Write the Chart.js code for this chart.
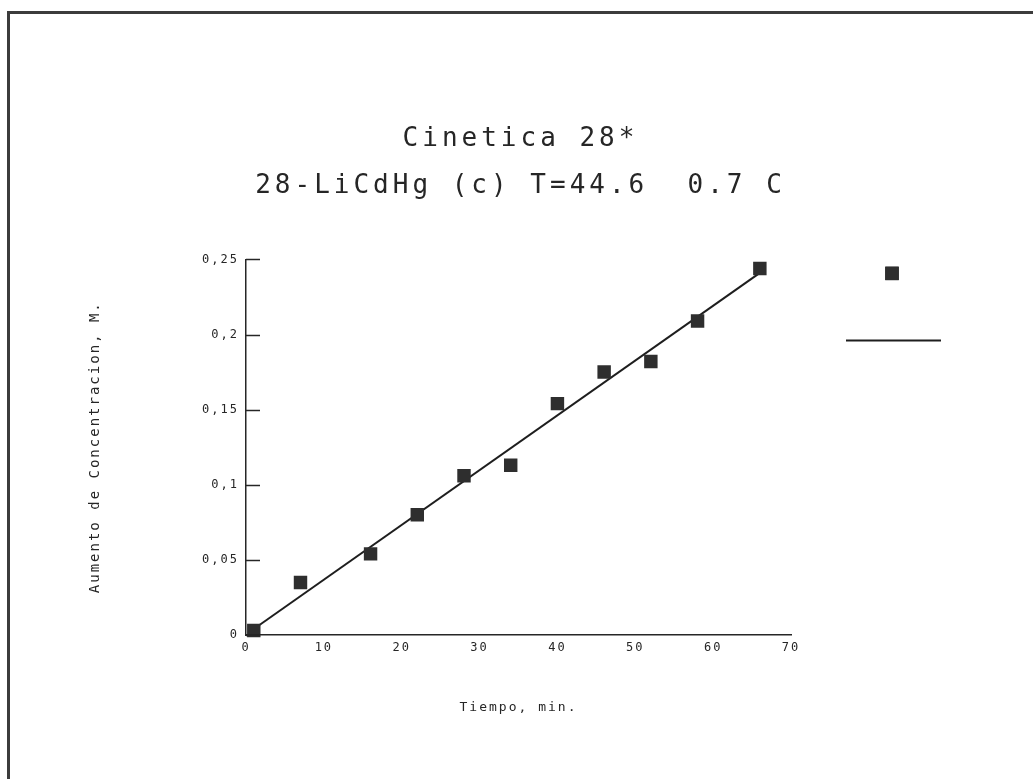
<!DOCTYPE html>
<html>
<head>
<meta charset="utf-8">
<title>Cinetica 28*</title>
<script src="https://cdn.jsdelivr.net/npm/chart.js@4.4.1/dist/chart.umd.min.js"></script>
<style>
    html, body { margin: 0; padding: 0; background: #fff; overflow: hidden; }
    #frame {
        position: absolute; left: 7px; top: 11px; width: 1100px; height: 1000px;
        border-left: 3px solid #3c3c3c; border-top: 3px solid #3c3c3c;
    }
    #wrap { position: absolute; left: 0; top: 0; width: 1033px; height: 779px; }
</style>
</head>
<body>
<div id="frame"></div>
<div id="wrap"><canvas id="kineticsChart"></canvas></div>
<script>
// --- DATA ---
const timeMin = [1, 7, 16, 22, 28, 34, 40, 46, 52, 58, 66];
const concIncrease = [0.003, 0.035, 0.054, 0.080, 0.106, 0.113, 0.154, 0.175, 0.182, 0.209, 0.244];
// fitted straight line, end points
const fitX = [1, 66];
const fitY = [0.004, 0.241];
const xTickLabels = ['0', '10', '20', '30', '40', '50', '60', '70'];
const yTickLabels = ['0', '0,05', '0,1', '0,15', '0,2', '0,25'];

const ink = '#262626';
const mono = "'DejaVu Sans Mono', 'Liberation Mono', monospace";

// spacing for the plotter-like lettering; scale layers are drawn after the datasets (z: 1)
const letterSpacingPlugin = {
    id: 'letterSpacing',
    beforeDraw(chart) { chart.ctx.letterSpacing = '4px'; },
    afterDatasetsDraw(chart) { chart.ctx.letterSpacing = '2px'; },
    afterDraw(chart) { chart.ctx.letterSpacing = '0px'; }
};

// short tick marks pointing into the plot on the y axis
const innerTicksPlugin = {
    id: 'innerTicks',
    afterDraw(chart) {
        const { ctx, chartArea } = chart;
        const yScale = chart.scales.y;
        ctx.save();
        ctx.strokeStyle = ink;
        ctx.lineWidth = 1.5;
        yScale.ticks.forEach(t => {
            const py = Math.round(yScale.getPixelForValue(t.value)) + 0.5;
            ctx.beginPath();
            ctx.moveTo(chartArea.left, py);
            ctx.lineTo(chartArea.left + 14, py);
            ctx.stroke();
        });
        ctx.restore();
    }
};

// legend without text: a marker and a line sample to the right of the plot
const sideLegendPlugin = {
    id: 'sideLegend',
    afterDraw(chart) {
        const { ctx, chartArea } = chart;
        const pts = chart.data.datasets[0];
        const fit = chart.data.datasets[1];
        ctx.save();
        Chart.helpers.drawPoint(ctx, {
            pointStyle: pts.pointStyle,
            radius: pts.pointRadius,
            borderWidth: 0
        }, chartArea.right + 101, chartArea.top + 14);
        ctx.fillStyle = pts.backgroundColor;
        ctx.fill();
        ctx.strokeStyle = fit.borderColor;
        ctx.lineWidth = fit.borderWidth;
        ctx.beginPath();
        ctx.moveTo(chartArea.right + 55, chartArea.top + 81);
        ctx.lineTo(chartArea.right + 150, chartArea.top + 81);
        ctx.stroke();
        ctx.restore();
    }
};

document.addEventListener('DOMContentLoaded', () => {
    const ctx = document.getElementById('kineticsChart').getContext('2d');
    new Chart(ctx, {
        type: 'scatter',
        data: {
            datasets: [{
                label: 'Medidas',
                data: timeMin.map((t, i) => ({ x: t, y: concIncrease[i] })),
                pointStyle: 'rect',
                pointRadius: 9.5,
                pointHoverRadius: 9.5,
                backgroundColor: '#2e2e2e',
                borderWidth: 0,
                clip: 12
            }, {
                label: 'Ajuste',
                data: fitX.map((t, i) => ({ x: t, y: fitY[i] })),
                showLine: true,
                pointRadius: 0,
                borderColor: '#1e1e1e',
                borderWidth: 2,
                clip: 12
            }]
        },
        options: {
            responsive: true,
            maintainAspectRatio: false,
            animation: false,
            layout: { padding: { left: 8, right: 0, top: 0, bottom: 0 } },
            plugins: {
                legend: { display: false },
                tooltip: { enabled: false },
                title: {
                    display: true,
                    text: 'Cinetica 28*',
                    color: ink,
                    font: { family: mono, size: 26, weight: 'normal' },
                    padding: { top: 124, bottom: 0 }
                },
                subtitle: {
                    display: true,
                    text: '28-LiCdHg (c) T=44.6  0.7 C',
                    color: ink,
                    font: { family: mono, size: 26, weight: 'normal' },
                    padding: { top: 15, bottom: 58 }
                }
            },
            scales: {
                x: {
                    type: 'linear',
                    min: 0,
                    max: 70,
                    grid: { display: false, drawTicks: false, z: 1 },
                    border: { display: true, color: ink, width: 1.5, z: 1 },
                    ticks: {
                        z: 1,
                        stepSize: 10,
                        padding: 6,
                        color: ink,
                        font: { family: mono, size: 12 },
                        callback: (v, i) => xTickLabels[i]
                    },
                    title: {
                        display: true,
                        text: 'Tiempo, min.',
                        color: ink,
                        font: { family: mono, size: 13 },
                        padding: { top: 0, bottom: 64 }
                    },
                    afterFit: s => { s.height = 144; }
                },
                y: {
                    type: 'linear',
                    min: 0,
                    max: 0.25,
                    grid: { display: false, drawTicks: false, z: 1 },
                    border: { display: true, color: ink, width: 1.5, z: 1 },
                    ticks: {
                        z: 1,
                        stepSize: 0.05,
                        padding: 7,
                        color: ink,
                        font: { family: mono, size: 12 },
                        callback: (v, i) => yTickLabels[i]
                    },
                    title: {
                        display: true,
                        text: 'Aumento de Concentracion, M.',
                        color: ink,
                        font: { family: mono, size: 14 },
                        padding: { top: 79, bottom: 0 }
                    },
                    afterFit: s => { s.width = 238; }
                },
                // empty axis that only reserves the space on the right for the legend
                side: {
                    type: 'linear',
                    position: 'right',
                    display: true,
                    grid: { display: false, drawTicks: false },
                    border: { display: false },
                    ticks: { display: false },
                    afterFit: s => { s.width = 242; }
                }
            }
        },
        plugins: [letterSpacingPlugin, innerTicksPlugin, sideLegendPlugin]
    });
});
</script>
</body>
</html>
